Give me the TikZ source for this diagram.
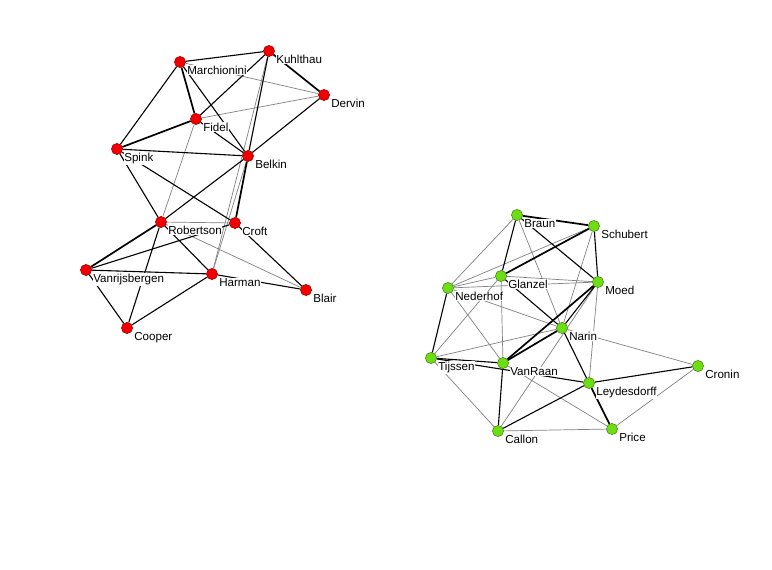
\documentclass[tikz,border=0pt]{standalone}
\usepackage{fontspec}
\setmainfont{Liberation Sans}
\definecolor{dotred}{RGB}{240,0,0}
\definecolor{dotgreen}{RGB}{110,222,20}
\definecolor{edgegray}{RGB}{130,130,130}
\begin{document}
\begin{tikzpicture}[x=1pt,y=-1pt,
  reddot/.style={circle,fill=dotred,draw=dotred!70!black,line width=0.4pt,minimum size=11pt,inner sep=0pt},
  greendot/.style={circle,fill=dotgreen,draw=dotgreen!60!black,line width=0.4pt,minimum size=11pt,inner sep=0pt},
  lbl/.style={anchor=base west,fill=white,inner sep=0.6pt,font=\fontsize{11.6}{13}\selectfont},
  blk/.style={black,line width=1.1pt},
  thk/.style={black,line width=1.7pt},
  gry/.style={edgegray,line width=0.7pt}]
\useasboundingbox[fill=white] (0,0) rectangle (772,570);
% left cluster nodes
\node[reddot] (Marchionini) at (180,62) {};
\node[reddot] (Kuhlthau) at (269,51) {};
\node[reddot] (Dervin) at (324,95) {};
\node[reddot] (Fidel) at (196,119) {};
\node[reddot] (Spink) at (117,149) {};
\node[reddot] (Belkin) at (248,156) {};
\node[reddot] (Robertson) at (161,222) {};
\node[reddot] (Croft) at (235,223) {};
\node[reddot] (Vanrijsbergen) at (86,270) {};
\node[reddot] (Harman) at (212,274) {};
\node[reddot] (Blair) at (306,290) {};
\node[reddot] (Cooper) at (127,328) {};
% right cluster nodes
\node[greendot] (Braun) at (517,215) {};
\node[greendot] (Schubert) at (594,226) {};
\node[greendot] (Glanzel) at (501,276) {};
\node[greendot] (Moed) at (598,282) {};
\node[greendot] (Nederhof) at (448,288) {};
\node[greendot] (Narin) at (562,328) {};
\node[greendot] (Tijssen) at (431,358) {};
\node[greendot] (VanRaan) at (503,363) {};
\node[greendot] (Leydesdorff) at (589,383) {};
\node[greendot] (Cronin) at (698,366) {};
\node[greendot] (Callon) at (498,431) {};
\node[greendot] (Price) at (612,429) {};
% left edges
\foreach \a/\b in {Marchionini/Dervin,Fidel/Dervin,Fidel/Robertson,Robertson/Croft,Robertson/Blair,Belkin/Harman,Kuhlthau/Harman}
  \draw[gry] (\a) -- (\b);
\foreach \a/\b in {Marchionini/Kuhlthau,Marchionini/Spink,Marchionini/Belkin,Kuhlthau/Fidel,Kuhlthau/Belkin,Fidel/Belkin,Dervin/Belkin,Spink/Belkin,Spink/Robertson,Spink/Croft,Belkin/Robertson,Robertson/Harman,Robertson/Cooper,Vanrijsbergen/Croft,Vanrijsbergen/Harman,Vanrijsbergen/Cooper,Harman/Cooper,Harman/Blair,Croft/Blair}
  \draw[blk] (\a) -- (\b);
\foreach \a/\b in {Marchionini/Fidel,Kuhlthau/Dervin,Fidel/Spink,Robertson/Vanrijsbergen,Belkin/Croft}
  \draw[thk] (\a) -- (\b);
% right edges
\foreach \a/\b in {Braun/Nederhof,Braun/Narin,Schubert/Nederhof,Schubert/Narin,Glanzel/Nederhof,Glanzel/Moed,Nederhof/Moed,Glanzel/VanRaan,Tijssen/Glanzel,Nederhof/Narin,Nederhof/VanRaan,Moed/Leydesdorff,Narin/Cronin,Narin/Tijssen,Moed/Callon,Tijssen/Callon,VanRaan/Price,Callon/Price,Cronin/Price}
  \draw[gry] (\a) -- (\b);
\foreach \a/\b in {Braun/Glanzel,Braun/Moed,Schubert/Moed,Glanzel/Narin,Moed/Narin,Narin/Leydesdorff,Tijssen/VanRaan,Tijssen/Leydesdorff,VanRaan/Callon,Callon/Leydesdorff,Leydesdorff/Cronin,Nederhof/Tijssen}
  \draw[blk] (\a) -- (\b);
\foreach \a/\b in {Braun/Schubert,Schubert/Glanzel,Moed/VanRaan,Narin/VanRaan,Leydesdorff/Price}
  \draw[thk] (\a) -- (\b);
% labels
\foreach \n in {Marchionini,Kuhlthau,Dervin,Fidel,Spink,Belkin,Robertson,Croft,Vanrijsbergen,Harman,Blair,Cooper,Braun,Schubert,Glanzel,Moed,Nederhof,Narin,Tijssen,VanRaan,Leydesdorff,Cronin,Callon,Price}
  \node[lbl] (\n-lbl) at ([shift={(6.5,12.5)}]\n.center) {\n};
% redraw dots on top
\foreach \n in {Marchionini,Kuhlthau,Dervin,Fidel,Spink,Belkin,Robertson,Croft,Vanrijsbergen,Harman,Blair,Cooper}
  \node[reddot] (\n-top) at (\n) {};
\foreach \n in {Braun,Schubert,Glanzel,Moed,Nederhof,Narin,Tijssen,VanRaan,Leydesdorff,Cronin,Callon,Price}
  \node[greendot] (\n-top) at (\n) {};
\end{tikzpicture}
\end{document}
